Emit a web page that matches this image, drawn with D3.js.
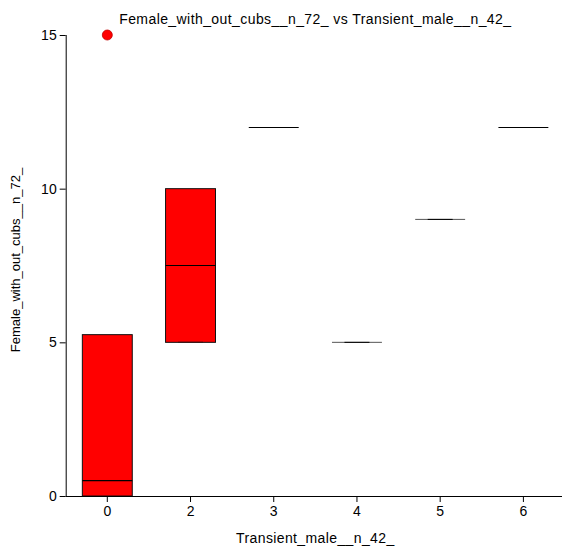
<!DOCTYPE html>
<html><head><meta charset="utf-8">
<script src="https://cdn.jsdelivr.net/npm/d3@7"></script>
<style>
html,body{margin:0;padding:0;background:#fff;}
text{font-family:Arial,"Liberation Sans",sans-serif;}
</style></head>
<body><svg id="c" width="562" height="547"></svg>
<script>
const categories = ["0","2","3","4","5","6"];
const q1 =        [0,    5,   12, 5, 9, 12];
const median =    [0.5,  7.5, 12, 5, 9, 12];
const q3 =        [5.25, 10,  12, 5, 9, 12];
const whiskerLo = [0,    5,   12, 5, 9, 12];
const whiskerHi = [5.25, 10,  12, 5, 9, 12];
const outliers =  [[15], [],  [], [], [], []];
const yTicks = [0, 5, 10, 15];
const title = "Female_with_out_cubs__n_72_ vs Transient_male__n_42_";
const xTitle = "Transient_male__n_42_";
const yTitle = "Female_with_out_cubs__n_72_";

(function () {
const svg = d3.select("#c");
const mLeft = 65.7, mRight = 565, mTop = 35, mBottom = 496;
const x = d3.scaleBand().domain(categories).range([mLeft, mRight]).paddingInner(0).paddingOuter(0);
const y = d3.scaleLinear().domain([0, 15]).range([mBottom, mTop]);
const bw = x.bandwidth() * 0.6;
const cw = x.bandwidth() * 0.3;

const data = categories.map((c, i) => ({c, q1: q1[i], med: median[i], q3: q3[i], lo: whiskerLo[i], hi: whiskerHi[i], out: outliers[i]}));

const g = svg.append("g");
data.forEach(d => {
  const cx = x(d.c) + x.bandwidth() / 2;
  if (d.lo < d.q1) g.append("line").attr("x1", cx).attr("x2", cx).attr("y1", y(d.lo)).attr("y2", y(d.q1)).attr("stroke", "#000");
  if (d.hi > d.q3) g.append("line").attr("x1", cx).attr("x2", cx).attr("y1", y(d.q3)).attr("y2", y(d.hi)).attr("stroke", "#000");
  const h = y(d.q1) - y(d.q3);
  if (h > 0) {
    g.append("rect").attr("x", cx - bw / 2).attr("y", y(d.q3)).attr("width", bw).attr("height", h)
      .attr("fill", "#ff0000").attr("stroke", "#111").attr("stroke-width", 1);
    g.append("line").attr("x1", cx - bw / 2).attr("x2", cx + bw / 2).attr("y1", y(d.med)).attr("y2", y(d.med)).attr("stroke", "#000").attr("stroke-width", 1.2);
    if (d.c === "2") g.append("line").attr("x1", cx - cw / 2).attr("x2", cx + cw / 2).attr("y1", y(d.lo)).attr("y2", y(d.lo)).attr("stroke", "#3a1a1a").attr("stroke-width", 1.2);
  } else {
    const isSharp = d.c === "3" || d.c === "6";
    const yy = isSharp ? Math.round(y(d.med)) + 0.5 : y(d.med);
    g.append("line").attr("x1", cx - bw / 2).attr("x2", cx + bw / 2).attr("y1", yy).attr("y2", yy)
      .attr("stroke", isSharp ? "#000" : "#555").attr("stroke-width", 1);
    if (!isSharp) g.append("line").attr("x1", cx - cw / 2).attr("x2", cx + cw / 2).attr("y1", yy).attr("y2", yy).attr("stroke", "#000").attr("stroke-width", 1);
  }
  d.out.forEach(o => {
    g.append("circle").attr("cx", cx).attr("cy", y(o)).attr("r", 5).attr("fill", "#ff0000").attr("stroke", "#c00000").attr("stroke-width", 0.8);
  });
});

const yAxis = svg.append("g").attr("transform", `translate(${mLeft},0)`)
  .call(d3.axisLeft(y).tickValues(yTicks).tickSize(6).tickPadding(3).tickFormat(d3.format("d")));
yAxis.select(".domain").attr("d", `M0.5,${mTop}V${mBottom}`).attr("stroke", "#000");
yAxis.selectAll("text").attr("font-size", 14).attr("fill", "#000");

const xAxis = svg.append("g").attr("transform", `translate(0,${mBottom})`)
  .call(d3.axisBottom(x).tickSize(6).tickPadding(4));
xAxis.select(".domain").attr("d", `M${mLeft},0.5H562`).attr("stroke", "#000");
xAxis.selectAll("text").attr("font-size", 14).attr("fill", "#000");

svg.append("text").attr("x", (mLeft + mRight) / 2).attr("y", 24).attr("text-anchor", "middle").attr("font-size", 14).attr("letter-spacing", 0.42).text(title);
svg.append("text").attr("x", (mLeft + mRight) / 2).attr("y", 543).attr("text-anchor", "middle").attr("font-size", 14).attr("letter-spacing", 0.38).text(xTitle);
svg.append("text").attr("transform", `translate(20,260) rotate(-90)`).attr("text-anchor", "middle").attr("font-size", 13).text(yTitle);
})();
</script></body></html>
